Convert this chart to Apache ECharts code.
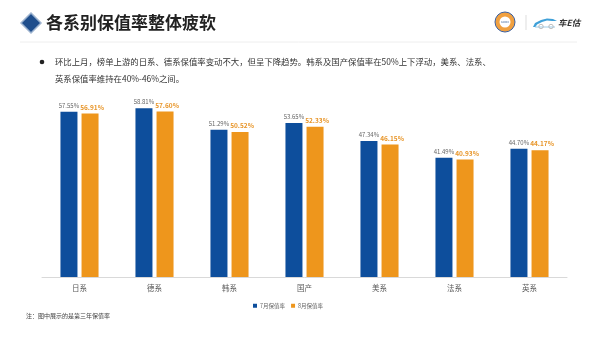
<!DOCTYPE html>
<html>
<head>
<meta charset="utf-8">
<script src="https://cdn.jsdelivr.net/npm/echarts@6/dist/echarts.min.js"></script>
<style>
html,body{margin:0;padding:0;background:#fff;}
#c{width:600px;height:337px;}
</style>
</head>
<body>
<div id="c"></div>
<script>
const categories = ['日系','德系','韩系','国产','美系','法系','英系'];
const julyRates = [57.55, 58.81, 51.29, 53.65, 47.34, 41.49, 44.70];
const augRates  = [56.91, 57.60, 50.52, 52.33, 46.15, 40.93, 44.17];
const seriesNames = ['7月保值率','8月保值率'];
const titleText = '各系别保值率整体疲软';
const bulletLine1 = '环比上月，榜单上游的日系、德系保值率变动不大，但呈下降趋势。韩系及国产保值率在50%上下浮动，美系、法系、';
const bulletLine2 = '英系保值率维持在40%-46%之间。';
const noteText = '注：图中展示的是第三年保值率';

const BLUE = '#0D4E9C', ORANGE = '#EE961C';
const font = '"Noto Sans CJK SC", "Noto Sans", sans-serif';

function txt(x, y, text, f, fill, align) {
  return {type: 'text', x: x, y: y,
    style: {text: text, font: f, fill: fill, align: align || 'left', verticalAlign: 'middle'}};
}

const chart = echarts.init(document.getElementById('c'), null, {renderer:'canvas'});
chart.setOption({
  backgroundColor: '#fff',
  animation: false,
  textStyle: {fontFamily: font},
  grid: {left: 42, right: 33, top: 76, bottom: 60},
  legend: {
    data: seriesNames, top: 298, left: 248,
    itemWidth: 4, itemHeight: 4, itemGap: 6,
    icon: 'rect',
    textStyle: {fontSize: 5.5, color: '#666', padding: [0,0,0,-2]}
  },
  xAxis: {
    type: 'category', data: categories,
    axisLine: {lineStyle: {color: '#D9D9D9', width: 1}},
    axisTick: {show: false},
    axisLabel: {fontSize: 7.5, color: '#595959', margin: 7}
  },
  yAxis: {
    type: 'value', min: 0, max: 70, show: false,
    splitLine: {show: false}
  },
  series: [
    {
      name: seriesNames[0], type: 'bar', data: julyRates,
      barWidth: 17, barGap: '24%',
      itemStyle: {color: BLUE},
      label: {show: true, position: 'top', distance: 3, fontSize: 6, color: '#666',
        formatter: p => p.value.toFixed(2) + '%'}
    },
    {
      name: seriesNames[1], type: 'bar', data: augRates,
      barWidth: 17,
      itemStyle: {color: ORANGE},
      label: {show: true, position: 'top', distance: 3, fontSize: 6.5, fontWeight: 'bold', color: '#E8962A',
        offset: [2, 0],
        formatter: p => p.value.toFixed(2) + '%'}
    }
  ],
  graphic: [
    {type: 'polygon', shape: {points: [[31,13],[41,23],[31,33],[21,23]]},
      style: {fill: '#1F4E8C', stroke: '#9DB3CF', lineWidth: 1.5}},
    txt(46, 23, titleText, 'bold 17px ' + font, '#222'),
    {type: 'line', shape: {x1: 20, y1: 42, x2: 577, y2: 42}, style: {stroke: '#EEEEEE', lineWidth: 1}},
    // logos
    {type: 'circle', shape: {cx: 505, cy: 22, r: 10}, style: {fill: '#F0A040', stroke: '#3A5FA0', lineWidth: 1}},
    {type: 'circle', shape: {cx: 505, cy: 22, r: 5.5}, style: {fill: '#fff'}},
    txt(505, 22, 'CADCC', '2.5px ' + font, '#1F4E8C', 'center'),
    {type: 'line', shape: {x1: 526, y1: 15, x2: 526, y2: 30}, style: {stroke: '#DDDDDD', lineWidth: 1}},
    {type: 'polygon', shape: {points: [[533,27],[535,23],[541,20],[547,18.5],[553,19],[557,21],[552,21],[547,20.5],[542,22],[537,24.5],[535.5,27]]},
      style: {fill: '#3FA0D8'}},
    {type: 'line', shape: {x1: 535, y1: 27, x2: 555, y2: 27}, style: {stroke: '#9CCBE8', lineWidth: 1}},
    {type: 'circle', shape: {cx: 541, cy: 26.5, r: 2.2}, style: {fill: 'none', stroke: '#B0B0B0', lineWidth: 0.8}},
    {type: 'circle', shape: {cx: 551, cy: 26.5, r: 2.2}, style: {fill: 'none', stroke: '#B0B0B0', lineWidth: 0.8}},
    txt(558, 23, '车E估', 'italic bold 8.5px ' + font, '#333'),
    // bullet text
    {type: 'circle', shape: {cx: 42, cy: 62, r: 2.3}, style: {fill: '#222'}},
    txt(55, 62, bulletLine1, '8.4px ' + font, '#333'),
    txt(55, 79, bulletLine2, '8.4px ' + font, '#333'),
    // note
    txt(26, 316, noteText, '6px ' + font, '#444')
  ]
});
</script>
</body>
</html>
